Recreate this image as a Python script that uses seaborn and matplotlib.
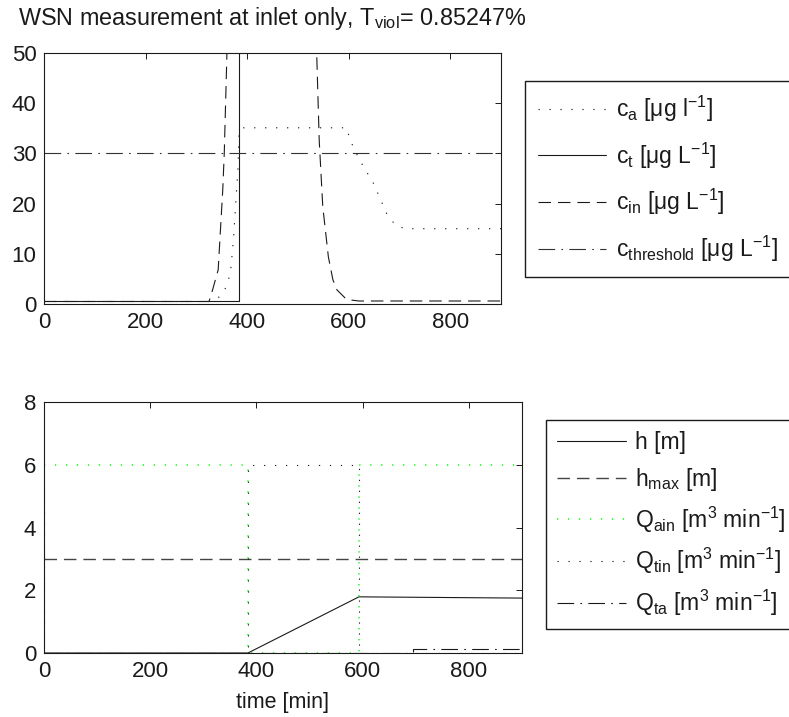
import matplotlib
matplotlib.use("Agg")
import matplotlib.pyplot as plt
import seaborn as sns
import numpy as np

# ---------------- data ----------------
# top panel: concentrations
t_ca = [0, 330, 340, 355, 367, 373, 378, 382, 384, 389, 596, 603, 622, 649, 675, 692, 711, 900]
c_a = [0.5, 0.5, 0.9, 2.5, 6, 12.7, 20.7, 27, 33.6, 35.1, 35.1, 32.6, 28.6, 24, 18, 15.7, 15, 15]

t_ct = [0, 384, 384, 900]
c_t = [0.5, 0.5, 200, 200]

t_cin = [0, 325, 330, 343, 352, 355, 360, 366, 530, 537, 542, 549, 560, 569, 577, 596, 620, 900]
c_in = [0.5, 0.5, 2.1, 6.8, 22.7, 30, 49, 75, 75, 50, 32.6, 19.4, 9.4, 4.8, 2.8, 0.9, 0.6, 0.6]

t_thr = [0, 900]
c_thr = [30, 30]

# bottom panel: levels and flows
t_h = [0, 384, 593, 900]
h = [0, 0, 1.79, 1.75]

t_hmax = [0, 900]
h_max = [3, 3]

t_qain = [0, 384, 384, 593, 593, 900]
q_ain = [6, 6, 0, 0, 6, 6]

t_qtin = [0, 0, 384, 384, 593, 593, 900]
q_tin = [5.2, 0, 0, 6, 6, 0, 0]

t_qta = [0, 695, 695, 900]
q_ta = [0, 0, 0.13, 0.13]

top_labels = [r'c$_{a}$ [μg l$^{-1}$]', r'c$_{t}$ [μg L$^{-1}$]',
              r'c$_{in}$ [μg L$^{-1}$]', r'c$_{threshold}$ [μg L$^{-1}$]']
bot_labels = [r'h [m]', r'h$_{max}$ [m]', r'Q$_{ain}$ [m$^{3}$ min$^{-1}$]',
              r'Q$_{tin}$ [m$^{3}$ min$^{-1}$]', r'Q$_{ta}$ [m$^{3}$ min$^{-1}$]']
title = r'WSN measurement at inlet only, T$_{viol}$= 0.85247%'

# ---------------- style ----------------
sns.set_theme(style="white")
plt.rcParams['font.family'] = ['Liberation Sans', 'DejaVu Sans']
plt.rcParams['mathtext.fontset'] = 'custom'
plt.rcParams['mathtext.rm'] = 'Liberation Sans'
plt.rcParams['mathtext.it'] = 'Liberation Sans:italic'
plt.rcParams['mathtext.bf'] = 'Liberation Sans:bold'
plt.rcParams['mathtext.default'] = 'regular'
plt.rcParams['lines.scale_dashes'] = False

W, H = 789, 717
fig = plt.figure(figsize=(W / 100, H / 100), dpi=100)

def px_axes(l, t, r, b):
    return fig.add_axes([l / W, 1 - b / H, (r - l) / W, (b - t) / H])

ax1 = px_axes(44, 53, 501, 304)
ax2 = px_axes(44, 402, 522, 653)

LW = 0.8
DOT = (0, (0.9, 7))
DASH = (0, (9, 5))
DASHDOT = (0, (12, 4.5, 1.2, 4.5))

def line(ax, x, y, ls, color, label, lw=LW):
    sns.lineplot(x=x, y=y, ax=ax, sort=False, estimator=None, color=color,
                 linewidth=lw, linestyle=ls, label=label, legend=False)

line(ax1, t_ca, c_a, DOT, 'k', top_labels[0])
line(ax1, t_ct, c_t, '-', 'k', top_labels[1])
line(ax1, t_cin, c_in, DASH, 'k', top_labels[2])
line(ax1, t_thr, c_thr, DASHDOT, '#333333', top_labels[3])

line(ax2, t_h, h, '-', 'k', bot_labels[0])
line(ax2, t_hmax, h_max, DASH, '#444444', bot_labels[1], lw=1.0)
line(ax2, t_qain, q_ain, DOT, '#00ff00', bot_labels[2], lw=1.1)
line(ax2, t_qtin, q_tin, DOT, 'k', bot_labels[3])
line(ax2, t_qta, q_ta, DASHDOT, 'k', bot_labels[4])

ax1.set_xlim(0, 900)
ax1.set_ylim(0, 50)
ax1.set_xticks([0, 200, 400, 600, 800])
ax1.set_yticks([0, 10, 20, 30, 40, 50])
ax2.set_xlim(0, 900)
ax2.set_ylim(0, 8)
ax2.set_xticks([0, 200, 400, 600, 800])
ax2.set_yticks([0, 2, 4, 6, 8])

for ax in (ax1, ax2):
    ax.set_xlabel('')
    ax.set_ylabel('')
    for s in ax.spines.values():
        s.set_visible(True)
        s.set_color('k')
        s.set_linewidth(0.8)
    ax.tick_params(direction='in', length=4, width=0.7, colors='k',
                   top=True, right=True, labelsize=16, pad=5.5)
    ax.tick_params(axis='y', pad=5.5)
    ax.set_facecolor('white')

ax2.set_xlabel('time [min]', fontsize=15.5, color='k', labelpad=7.5)
ax1.set_title(title, fontsize=16.8, color='k', pad=20)

leg_kw = dict(fontsize=16.5, frameon=True, fancybox=False, shadow=False,
              framealpha=1, edgecolor='k', handlelength=3.0, handletextpad=0.4,
              borderaxespad=0, loc='upper left', bbox_transform=fig.transFigure)
l1 = ax1.legend(bbox_to_anchor=(525 / W, 1 - 81 / H), labelspacing=0.72,
                borderpad=0.55, **leg_kw)
l2 = ax2.legend(bbox_to_anchor=(546 / W, 1 - 420 / H), labelspacing=0.5,
                borderpad=0.5, **leg_kw)
for lg in (l1, l2):
    lg.get_frame().set_linewidth(1.0)
    for tx in lg.get_texts():
        tx.set_color('k')

fig.savefig('out.png', dpi=100, facecolor='white')
